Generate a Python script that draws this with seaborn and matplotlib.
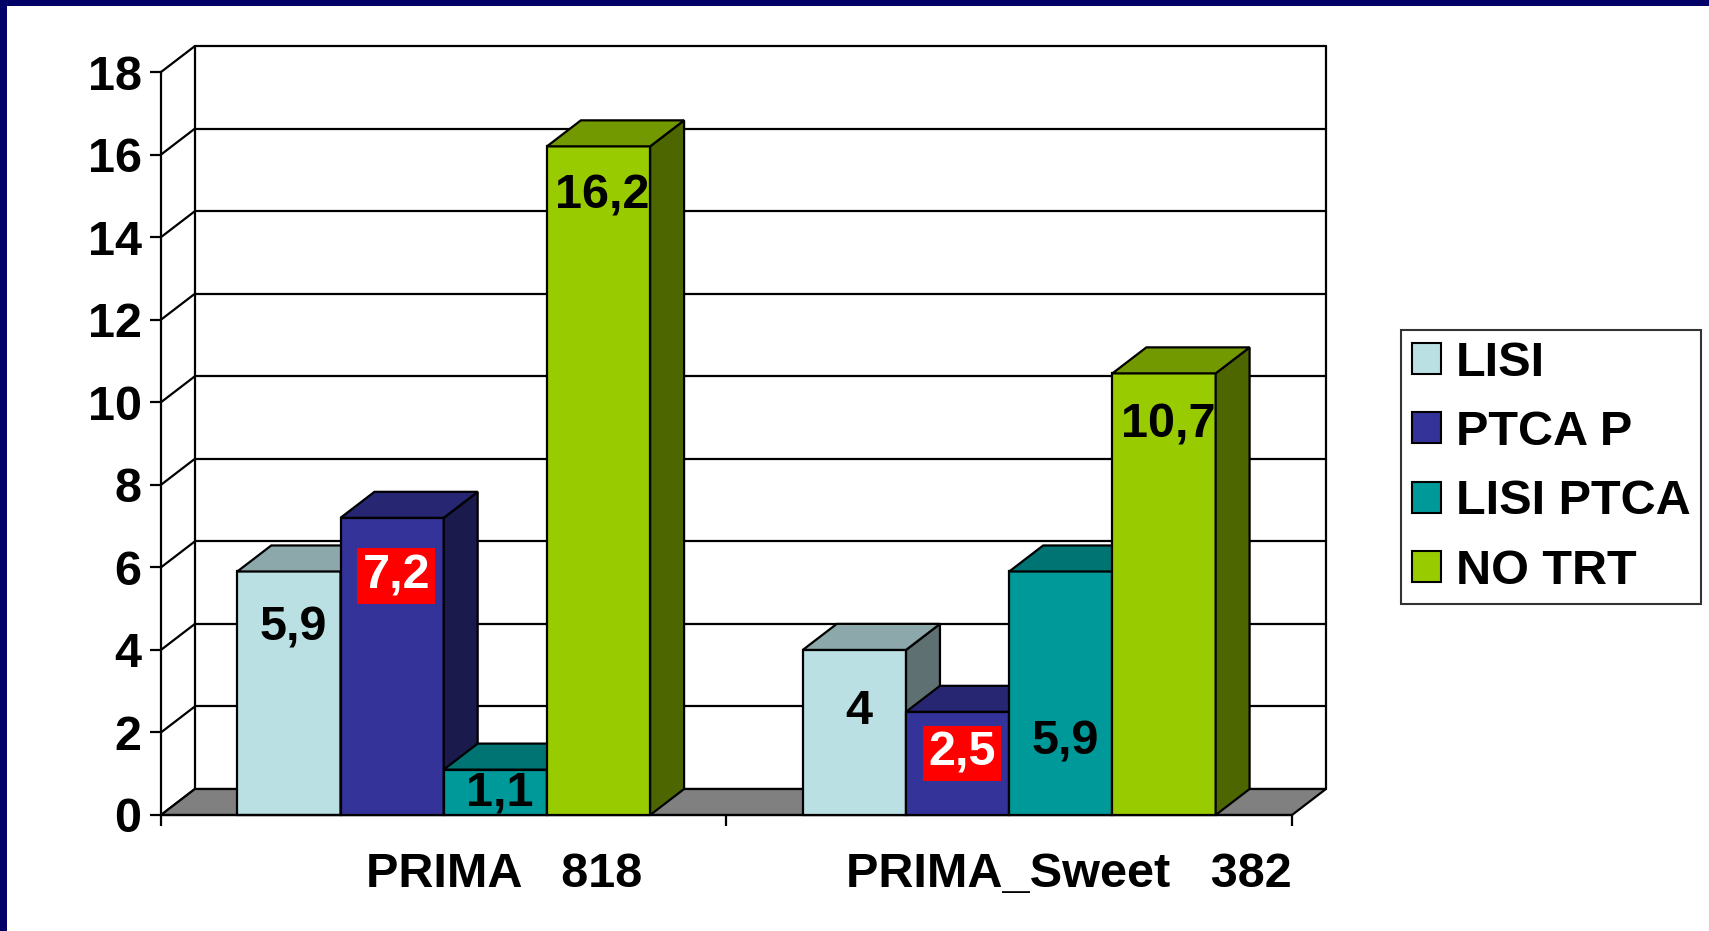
import matplotlib
matplotlib.use("Agg")
import matplotlib.pyplot as plt
from matplotlib.patches import Polygon, Patch, Rectangle
from matplotlib.transforms import ScaledTranslation
import seaborn as sns
import pandas as pd

sns.set_theme(style="white")
plt.rcParams['font.family'] = ['Liberation Sans', 'DejaVu Sans']
plt.rcParams['font.weight'] = 'bold'
plt.rcParams['text.color'] = 'black'
plt.rcParams['xtick.color'] = 'black'
plt.rcParams['ytick.color'] = 'black'

# data
studies = ['PRIMA', 'PRIMA_Sweet']
tick_labels = ['PRIMA   818', 'PRIMA_Sweet   382']
groups = ['LISI', 'PTCA P', 'LISI PTCA', 'NO TRT']
lisi = [5.9, 4.0]
ptca_p = [7.2, 2.5]
lisi_ptca = [1.1, 5.9]
no_trt = [16.2, 10.7]
colors = ['#BBE0E3', '#333399', '#009999', '#99CC00']

# labels with red highlight
highlight = ['PTCA P']
# how far each value label sits below its bar top (points), per group then study
label_drop = {'LISI': [41, 44], 'PTCA P': [42, 30], 'LISI PTCA': [17, 123], 'NO TRT': [36, 37]}

df = pd.DataFrame({
    'study': studies * 4,
    'group': [g for g in groups for _ in studies],
    'rate': lisi + ptca_p + lisi_ptca + no_trt,
})

fig = plt.figure(figsize=(17.09, 9.31), dpi=100)
ax = fig.add_axes([0.0942, 0.1246, 0.6618, 0.798])

sns.barplot(data=df, x='study', y='rate', hue='group', hue_order=groups,
            palette=colors, saturation=1, width=0.73, gap=0,
            edgecolor='black', linewidth=1.6, ax=ax, legend=False)

ax.set_xlim(-0.5, 1.5)
ax.set_ylim(0, 18)
dx, dy = 0.060, 0.63  # depth of the 3D box in data units
lw = 1.6

# back wall, side wall and floor
for yv in range(0, 19, 2):
    ax.plot([-0.5 + dx, 1.5 + dx], [yv + dy, yv + dy], color='black', lw=lw, zorder=0.5, clip_on=False)
    ax.plot([-0.5, -0.5 + dx], [yv, yv + dy], color='black', lw=lw, zorder=0.5, clip_on=False)
ax.plot([-0.5 + dx, -0.5 + dx], [dy, 18 + dy], color='black', lw=lw, zorder=0.5, clip_on=False)
ax.plot([1.5 + dx, 1.5 + dx], [dy, 18 + dy], color='black', lw=lw, zorder=0.5, clip_on=False)
ax.add_patch(Polygon([(-0.5, 0), (1.5, 0), (1.5 + dx, dy), (-0.5 + dx, dy)], closed=True,
                     facecolor='#808080', edgecolor='black', lw=lw, zorder=0.8, clip_on=False))


def shade(c, f):
    r, g, b = matplotlib.colors.to_rgb(c)
    return (r * f, g * f, b * f)


# give the bars depth, painting left to right
bars = []
for gi, cont in enumerate(ax.containers):
    for si, bar in enumerate(cont):
        bars.append((bar.get_x(), bar, gi, si))
bars.sort(key=lambda t: t[0])

for k, (x0, bar, gi, si) in enumerate(bars):
    w = bar.get_width()
    h = bar.get_height()
    fc = bar.get_facecolor()
    z = 2 + 3 * k
    bar.set_zorder(z)
    bar.set_clip_on(False)
    top = Polygon([(x0, h), (x0 + w, h), (x0 + w + dx, h + dy), (x0 + dx, h + dy)], closed=True,
                  facecolor=shade(fc, 0.75), edgecolor='black', lw=lw, zorder=z + 1, clip_on=False)
    side = Polygon([(x0 + w, 0), (x0 + w + dx, dy), (x0 + w + dx, h + dy), (x0 + w, h)], closed=True,
                   facecolor=shade(fc, 0.5), edgecolor='black', lw=lw, zorder=z + 1, clip_on=False)
    ax.add_patch(side)
    ax.add_patch(top)

    g = groups[gi]
    txt = f"{h:g}".replace('.', ',')
    kw = dict(ha='center', va='center', fontsize=35, fontweight='bold', zorder=100,
              textcoords='offset points', xytext=(3, -label_drop[g][si]))
    if g in highlight:
        ax.annotate(txt, (x0 + w / 2, h), color='white',
                    bbox=dict(facecolor='red', edgecolor='none', pad=4), **kw)
    else:
        ax.annotate(txt, (x0 + w / 2, h), color='black', **kw)

# axes styling
for s in ['top', 'right']:
    ax.spines[s].set_visible(False)
ax.spines['left'].set_linewidth(lw)
ax.spines['bottom'].set_linewidth(lw)
ax.spines['left'].set_color('black')
ax.spines['bottom'].set_color('black')
ax.spines['left'].set_zorder(0.9)

ax.set_yticks(range(0, 19, 2))
ax.tick_params(axis='y', direction='out', length=8, width=lw, color='black',
               labelsize=35, labelcolor='black', pad=6, left=True)
ax.set_xticks([-0.5, 0.5, 1.5])
ax.set_xticklabels([])
ax.set_xticks([0, 1], minor=True)
ax.set_xticklabels(tick_labels, minor=True, fontsize=35, fontweight='bold', color='black')
ax.tick_params(axis='x', which='major', direction='out', length=8, width=lw, color='black', bottom=True)
ax.tick_params(axis='x', which='minor', length=0, pad=27)
shift = ScaledTranslation(0.6, 0, fig.dpi_scale_trans)
for t in ax.get_xticklabels(minor=True):
    t.set_transform(t.get_transform() + shift)
for t in ax.get_yticklabels():
    t.set_fontweight('bold')
ax.set_xlabel('')
ax.set_ylabel('')
ax.grid(False)

# legend
handles = [Patch(facecolor=c, edgecolor='black', lw=1.5) for c in colors]
leg = fig.legend(handles, groups, loc='upper left', bbox_to_anchor=(0.82, 0.6455),
                 bbox_transform=fig.transFigure, borderaxespad=0, frameon=True,
                 fancybox=False, edgecolor='black', prop={'weight': 'bold', 'size': 35},
                 handlelength=0.6, handleheight=0.6, handletextpad=0.3, labelspacing=0.5,
                 borderpad=0.22)
leg.get_frame().set_linewidth(1.5)
for t in leg.get_texts():
    t.set_color('black')

# navy frame on the slide edge
fig.patches.append(Rectangle((0, 0), 7 / 1709, 1, transform=fig.transFigure,
                             facecolor='#000066', edgecolor='none', zorder=10))
fig.patches.append(Rectangle((0, 1 - 6 / 931), 1, 6 / 931, transform=fig.transFigure,
                             facecolor='#000066', edgecolor='none', zorder=10))

fig.savefig('out.png', dpi=100, facecolor='white')
